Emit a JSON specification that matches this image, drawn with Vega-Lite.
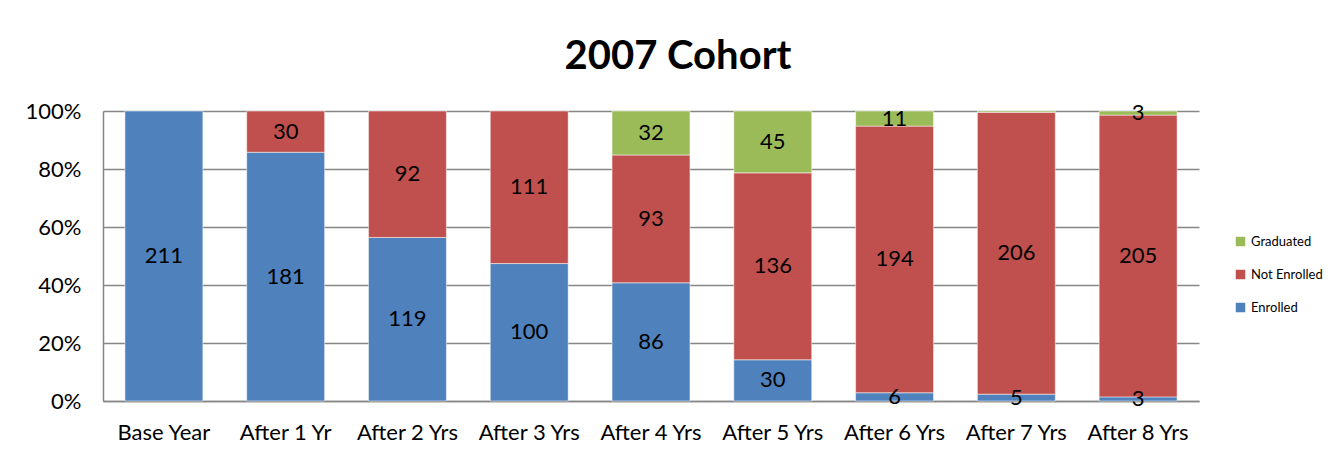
{
  "$schema": "https://vega.github.io/schema/vega-lite/v6.json",
  "width": 1096,
  "height": 290,
  "autosize": {"type": "none"},
  "padding": {"left": 103, "top": 111, "right": 132, "bottom": 60},
  "background": "white",
  "title": {
    "text": "2007 Cohort",
    "font": "Lato",
    "fontSize": 40,
    "fontWeight": "bold",
    "color": "#000000",
    "anchor": "middle",
    "dx": 27,
    "offset": 23
  },
  "data": {
    "values": [
      {"period": "Base Year", "status": "Enrolled", "ord": 1, "count": 211},
      {"period": "After 1 Yr", "status": "Enrolled", "ord": 1, "count": 181},
      {"period": "After 1 Yr", "status": "Not Enrolled", "ord": 2, "count": 30},
      {"period": "After 2 Yrs", "status": "Enrolled", "ord": 1, "count": 119},
      {"period": "After 2 Yrs", "status": "Not Enrolled", "ord": 2, "count": 92},
      {"period": "After 3 Yrs", "status": "Enrolled", "ord": 1, "count": 100},
      {"period": "After 3 Yrs", "status": "Not Enrolled", "ord": 2, "count": 111},
      {"period": "After 4 Yrs", "status": "Enrolled", "ord": 1, "count": 86},
      {"period": "After 4 Yrs", "status": "Not Enrolled", "ord": 2, "count": 93},
      {"period": "After 4 Yrs", "status": "Graduated", "ord": 3, "count": 32},
      {"period": "After 5 Yrs", "status": "Enrolled", "ord": 1, "count": 30},
      {"period": "After 5 Yrs", "status": "Not Enrolled", "ord": 2, "count": 136},
      {"period": "After 5 Yrs", "status": "Graduated", "ord": 3, "count": 45},
      {"period": "After 6 Yrs", "status": "Enrolled", "ord": 1, "count": 6},
      {"period": "After 6 Yrs", "status": "Not Enrolled", "ord": 2, "count": 194},
      {"period": "After 6 Yrs", "status": "Graduated", "ord": 3, "count": 11},
      {"period": "After 7 Yrs", "status": "Enrolled", "ord": 1, "count": 5},
      {"period": "After 7 Yrs", "status": "Not Enrolled", "ord": 2, "count": 206},
      {"period": "After 7 Yrs", "status": "Graduated", "ord": 3, "count": 1},
      {"period": "After 8 Yrs", "status": "Enrolled", "ord": 1, "count": 3},
      {"period": "After 8 Yrs", "status": "Not Enrolled", "ord": 2, "count": 205},
      {"period": "After 8 Yrs", "status": "Graduated", "ord": 3, "count": 3}
    ]
  },
  "transform": [
    {"stack": "count", "groupby": ["period"], "sort": [{"field": "ord", "order": "ascending"}], "offset": "normalize", "as": ["y0", "y1"]},
    {"calculate": "(datum.y0 + datum.y1) / 2", "as": "ymid"}
  ],
  "encoding": {
    "x": {
      "field": "period",
      "type": "nominal",
      "sort": null,
      "scale": {"paddingInner": 0.36, "paddingOuter": 0.18},
      "axis": {
        "title": null,
        "labelAngle": 0,
        "labelFont": "Lato",
        "labelFontSize": 22,
        "labelColor": "#000000",
        "labelPadding": 21,
        "ticks": false,
        "domainColor": "#868686",
        "domainWidth": 1.5
      }
    }
  },
  "layer": [
    {
      "mark": {"type": "bar", "stroke": "white", "strokeWidth": 0.5},
      "encoding": {
        "y": {
          "field": "y0",
          "type": "quantitative",
          "scale": {"domain": [0, 1]},
          "axis": {
            "title": null,
            "format": ".0%",
            "values": [0, 0.2, 0.4, 0.6, 0.8, 1],
            "labelFont": "Lato",
            "labelFontSize": 22,
            "labelColor": "#000000",
            "labelPadding": 22,
            "ticks": false,
            "grid": true,
            "gridColor": "#868686",
            "gridWidth": 1.5,
            "domainColor": "#868686",
            "domainWidth": 1.5
          }
        },
        "y2": {"field": "y1"},
        "color": {
          "field": "status",
          "type": "nominal",
          "scale": {
            "domain": ["Graduated", "Not Enrolled", "Enrolled"],
            "range": ["#9BBB59", "#C0504D", "#4F81BD"]
          },
          "legend": {
            "title": null,
            "orient": "none",
            "legendX": 1131,
            "legendY": 124,
            "symbolType": "square",
            "symbolSize": 90,
            "symbolStrokeWidth": 0,
            "labelFont": "Lato",
            "labelFontSize": 13,
            "labelColor": "#000000",
            "labelOffset": 4,
            "rowPadding": 19
          }
        }
      }
    },
    {
      "transform": [{"filter": "datum.count > 1"}],
      "mark": {"type": "text", "font": "Lato", "fontSize": 22, "color": "#000000", "baseline": "middle"},
      "encoding": {
        "y": {"field": "ymid", "type": "quantitative"},
        "text": {"field": "count", "type": "quantitative"}
      }
    }
  ],
  "config": {"view": {"stroke": null}}
}
